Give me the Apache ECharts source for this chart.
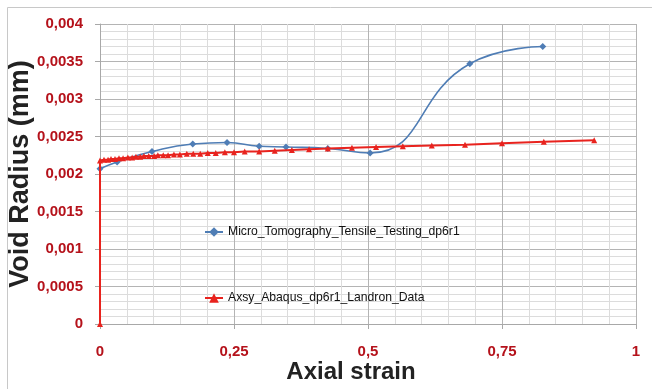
<!DOCTYPE html>
<html><head><meta charset="utf-8">
<script src="https://cdn.jsdelivr.net/npm/echarts@6/dist/echarts.min.js"></script>
<style>html,body{margin:0;padding:0;background:#fff}#c{width:652px;height:389px}</style>
</head><body><div id="c"></div>
<script>
const xTicks = [0, 0.25, 0.5, 0.75, 1];
const yTicks = [0, 0.0005, 0.001, 0.0015, 0.002, 0.0025, 0.003, 0.0035, 0.004];
const seriesNames = ["Micro_Tomography_Tensile_Testing_dp6r1", "Axsy_Abaqus_dp6r1_Landron_Data"];
const microX = [0, 0.032, 0.097, 0.173, 0.237, 0.297, 0.347, 0.425, 0.504, 0.69, 0.826];
const microY = [0.00207, 0.00216, 0.0023, 0.0024, 0.00242, 0.00237, 0.00236, 0.00234, 0.00228, 0.00347, 0.0037];
const axsyX = [0, 0, 0.0075, 0.015, 0.0205, 0.028, 0.0355, 0.043, 0.052, 0.06, 0.067, 0.075, 0.082, 0.091, 0.101, 0.108, 0.118, 0.127, 0.138, 0.149, 0.162, 0.174, 0.187, 0.201, 0.216, 0.233, 0.25, 0.27, 0.297, 0.326, 0.358, 0.39, 0.425, 0.47, 0.515, 0.565, 0.619, 0.681, 0.75, 0.828, 0.922];
const axsyY = [0, 0.00218, 0.00219, 0.00219, 0.0022, 0.0022, 0.00221, 0.00221, 0.00222, 0.00222, 0.00223, 0.00223, 0.00224, 0.00224, 0.00224, 0.00225, 0.00225, 0.00225, 0.00226, 0.00226, 0.00227, 0.00227, 0.00227, 0.00228, 0.00228, 0.00229, 0.00229, 0.0023, 0.0023, 0.00231, 0.00232, 0.00233, 0.00234, 0.00235, 0.00236, 0.00237, 0.00238, 0.00239, 0.00241, 0.00243, 0.00245];

const fmt = v => String(+v.toFixed(5)).replace('.', ',');
const labelRed = '#B5121B';
const chart = echarts.init(document.getElementById('c'), null, {renderer: 'canvas'});
chart.setOption({
  animation: false,
  backgroundColor: '#fff',
  graphic: [{type: 'rect', shape: {x: 7.5, y: 7.5, width: 660, height: 400}, style: {fill: 'none', stroke: '#c8c8c8', lineWidth: 1}, z: -1}],
  grid: {left: 100, right: 16, top: 24, bottom: 65, containLabel: false, outerBoundsMode: 'none'},
  legend: {
    orient: 'vertical', left: 199, top: 221, itemGap: 54, itemWidth: 18, itemHeight: 12,
    textStyle: {fontFamily: 'Liberation Sans', fontSize: 12.2, color: '#111'},
    data: seriesNames
  },
  xAxis: {
    type: 'value', min: xTicks[0], max: xTicks[xTicks.length - 1], interval: 0.25,
    name: 'Axial strain', nameLocation: 'middle', nameGap: 36, nameMoveOverlap: false,
    nameTextStyle: {fontFamily: 'Liberation Sans', fontSize: 24, fontWeight: 'bold', color: '#222', padding: [0, 34, 0, 0]},
    axisLine: {show: true, lineStyle: {color: '#a8a8a8'}},
    axisTick: {show: true, length: 5, lineStyle: {color: '#a8a8a8'}},
    axisLabel: {fontFamily: 'Liberation Sans', fontSize: 15, fontWeight: 'bold', color: labelRed, margin: 20, formatter: fmt},
    splitLine: {show: true, lineStyle: {color: '#b4b4b4', width: 1}},
    minorTick: {show: false, splitNumber: 5},
    minorSplitLine: {show: true, lineStyle: {color: '#dcdcdc', width: 1}}
  },
  yAxis: {
    type: 'value', min: yTicks[0], max: yTicks[yTicks.length - 1], interval: 0.0005,
    name: 'Void Radius (mm)', nameLocation: 'middle', nameGap: 66, nameMoveOverlap: false,
    nameTextStyle: {fontFamily: 'Liberation Sans', fontSize: 27, fontWeight: 'bold', color: '#222', padding: [0, 0, 0, 0]},
    axisLine: {show: true, lineStyle: {color: '#a8a8a8'}},
    axisTick: {show: true, length: 5, lineStyle: {color: '#a8a8a8'}},
    axisLabel: {fontFamily: 'Liberation Sans', fontSize: 15, fontWeight: 'bold', color: labelRed, margin: 17, formatter: fmt},
    splitLine: {show: true, lineStyle: {color: '#b4b4b4', width: 1}},
    minorTick: {show: false, splitNumber: 5},
    minorSplitLine: {show: true, lineStyle: {color: '#dcdcdc', width: 1}}
  },
  series: [
    {
      name: seriesNames[0], type: 'line', smooth: 0.5,
      data: microX.map((x, i) => [x, microY[i]]),
      symbol: 'diamond', symbolSize: 7,
      lineStyle: {color: '#4F7DB5', width: 1.6},
      itemStyle: {color: '#4F7DB5'}, z: 3
    },
    {
      name: seriesNames[1], type: 'line', smooth: false,
      data: axsyX.map((x, i) => [x, axsyY[i]]),
      symbol: 'triangle', symbolSize: 6,
      lineStyle: {color: '#E8231E', width: 2},
      itemStyle: {color: '#E8231E'}, z: 4
    }
  ]
});
</script></body></html>
